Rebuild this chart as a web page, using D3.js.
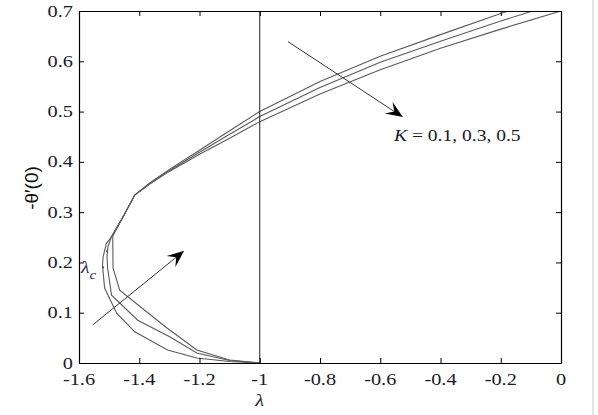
<!DOCTYPE html>
<html><head><meta charset="utf-8">
<script src="https://cdn.jsdelivr.net/npm/d3@7"></script>
<style>body{margin:0;background:#fff}svg{display:block}</style>
</head><body><svg id="c" width="598" height="415"></svg>
<script>
// ---- data ----
const kValues = [0.1, 0.3, 0.5];
const lambdaK01 = [0, -0.2, -0.4, -0.6, -0.8, -1.0, -1.1, -1.2, -1.3, -1.365, -1.415, -1.45, -1.493, -1.509, -1.520, -1.522, -1.515, -1.475, -1.415, -1.306, -1.209, -1.1, -1.0];
const thetaK01  = [0.735, 0.695, 0.653, 0.610, 0.560, 0.500, 0.462, 0.423, 0.385, 0.358, 0.334, 0.295, 0.250, 0.238, 0.211, 0.195, 0.149, 0.099, 0.062, 0.026, 0.010, 0.003, 0.0];
const lambdaK03 = [0, -0.2, -0.4, -0.6, -0.8, -1.0, -1.1, -1.2, -1.3, -1.365, -1.415, -1.45, -1.493, -1.504, -1.507, -1.505, -1.492, -1.405, -1.299, -1.209, -1.1, -1.0];
const thetaK03  = [0.718, 0.680, 0.640, 0.598, 0.548, 0.490, 0.455, 0.419, 0.383, 0.357, 0.334, 0.295, 0.250, 0.231, 0.211, 0.189, 0.135, 0.085, 0.052, 0.020, 0.005, 0.0];
const lambdaK05 = [0, -0.2, -0.4, -0.6, -0.8, -1.0, -1.1, -1.2, -1.3, -1.365, -1.415, -1.45, -1.488, -1.487, -1.465, -1.382, -1.309, -1.209, -1.1, -1.0];
const thetaK05  = [0.700, 0.664, 0.626, 0.583, 0.535, 0.480, 0.447, 0.415, 0.381, 0.356, 0.334, 0.295, 0.252, 0.189, 0.145, 0.105, 0.070, 0.026, 0.006, 0.0];
const xTicks = [-1.6, -1.4, -1.2, -1, -0.8, -0.6, -0.4, -0.2, 0];
const yTicks = [0, 0.1, 0.2, 0.3, 0.4, 0.5, 0.6, 0.7];
const xTickLabels = ["-1.6", "-1.4", "-1.2", "-1", "-0.8", "-0.6", "-0.4", "-0.2", "0"];
const yTickLabels = ["0", "0.1", "0.2", "0.3", "0.4", "0.5", "0.6", "0.7"];
const criticalLambda = -1.0;
// annotation arrows in data coordinates [from, to]
const arrowLower = [[-1.555, 0.0755], [-1.251, 0.223]];
const arrowUpper = [[-0.906, 0.639], [-0.525, 0.489]];
const lambdaCPoints = [[-1.52, 0.190], [-1.507, 0.222]];

// ---- drawing ----
const svg = d3.select("#c");
const L = 79, R = 561, T = 11, B = 363;
const x = d3.scaleLinear().domain([-1.6, 0]).range([L, R]);
const y = d3.scaleLinear().domain([0, 0.7]).range([B, T]);

svg.append("line").attr("x1",593).attr("x2",593).attr("y1",0).attr("y2",415).attr("stroke","#e4e4e4").attr("stroke-width",2);

svg.append("clipPath").attr("id","clip").append("rect").attr("x",L).attr("y",T).attr("width",R-L).attr("height",B-T);

const series = [[lambdaK01, thetaK01], [lambdaK03, thetaK03], [lambdaK05, thetaK05]];
const line = d3.line().x(d => x(d[0])).y(d => y(d[1]));
const g = svg.append("g").attr("clip-path","url(#clip)");
series.forEach(([ls, ts]) => {
  g.append("path").datum(ls.map((l,i)=>[l, ts[i]]))
    .attr("d", line).attr("fill","none").attr("stroke","#5a5a5a").attr("stroke-width",1.1);
});
// vertical line at lambda = -1
g.append("line").attr("x1",x(criticalLambda)).attr("x2",x(criticalLambda)).attr("y1",T).attr("y2",B)
  .attr("stroke","#222").attr("stroke-width",1);

// lambda_c markers
lambdaCPoints.forEach(p => {
  svg.append("circle").attr("cx",x(p[0])).attr("cy",y(p[1])).attr("r",1.1).attr("fill","#555");
});

// axes (inward ticks) on four sides
const tk = 5;
svg.append("g").attr("transform",`translate(0,${B})`)
  .call(d3.axisBottom(x).tickValues(xTicks).tickSizeInner(-tk).tickSizeOuter(0).tickFormat(""));
svg.append("g").attr("transform",`translate(0,${T})`)
  .call(d3.axisTop(x).tickValues(xTicks).tickSizeInner(-tk).tickSizeOuter(0).tickFormat(""));
svg.append("g").attr("transform",`translate(${L},0)`)
  .call(d3.axisLeft(y).tickValues(yTicks).tickSizeInner(-tk).tickSizeOuter(0).tickFormat(""));
svg.append("g").attr("transform",`translate(${R},0)`)
  .call(d3.axisRight(y).tickValues(yTicks).tickSizeInner(-tk).tickSizeOuter(0).tickFormat(""));
svg.selectAll(".domain").attr("stroke","#000").attr("stroke-width",1.2);
svg.selectAll(".tick line").attr("stroke","#000");

const serif = "'Liberation Serif','Times New Roman',serif";
const sx = 1.27;
xTicks.forEach((v,i) => {
  svg.append("text").attr("transform",`translate(${x(v)},${385}) scale(${sx},1)`)
    .attr("text-anchor","middle").attr("font-family",serif).attr("font-size",16).attr("fill","#1a1a2a")
    .text(xTickLabels[i]);
});
yTicks.forEach((v,i) => {
  svg.append("text").attr("transform",`translate(${73},${y(v)+5.5}) scale(${sx},1)`)
    .attr("text-anchor","end").attr("font-family",serif).attr("font-size",16).attr("fill","#1a1a2a")
    .text(yTickLabels[i]);
});

// axis titles
svg.append("text").attr("transform",`translate(${x(-1)},${406}) scale(1.2,1)`).attr("text-anchor","middle")
  .attr("font-family",serif).attr("font-style","italic").attr("font-size",17).attr("fill","#1a1a2a").text("λ");
svg.append("text").attr("transform",`translate(38,${188}) rotate(-90)`).attr("text-anchor","middle")
  .attr("font-family","'Liberation Sans',Arial,sans-serif").attr("font-size",19).attr("fill","#111").text("-θ′(0)");

// arrows
function arrow(a){
  const x0=x(a[0][0]), y0=y(a[0][1]), x1=x(a[1][0]), y1=y(a[1][1]);
  const ang=Math.atan2(y1-y0,x1-x0), hl=17, hw=7;
  const ux=Math.cos(ang), uy=Math.sin(ang), px=-uy, py=ux;
  const bx=x1-ux*hl, by=y1-uy*hl;
  svg.append("line").attr("x1",x0).attr("y1",y0).attr("x2",x1-ux*8).attr("y2",y1-uy*8).attr("stroke","#333").attr("stroke-width",1);
  const nx=x1-ux*hl*0.6, ny=y1-uy*hl*0.6;
  svg.append("path").attr("d",`M${x1},${y1}L${bx+px*hw},${by+py*hw}L${nx},${ny}L${bx-px*hw},${by-py*hw}Z`).attr("fill","#000");
}
arrow(arrowLower);
arrow(arrowUpper);

// K label
const kl = svg.append("text").attr("transform",`translate(394,${141}) scale(1.15,1)`)
  .attr("font-family",serif).attr("font-size",17).attr("fill","#1a1a2a");
kl.append("tspan").attr("font-style","italic").text("K");
kl.append("tspan").text(" = " + kValues.join(", "));

// lambda_c label
const lc = svg.append("text").attr("transform",`translate(81,${273}) scale(1.15,1)`)
  .attr("font-family",serif).attr("font-style","italic").attr("font-size",17).attr("fill","#2a2a55");
lc.append("tspan").text("λ");
lc.append("tspan").attr("dy",6).attr("font-size",13).text("c");
</script></body></html>
